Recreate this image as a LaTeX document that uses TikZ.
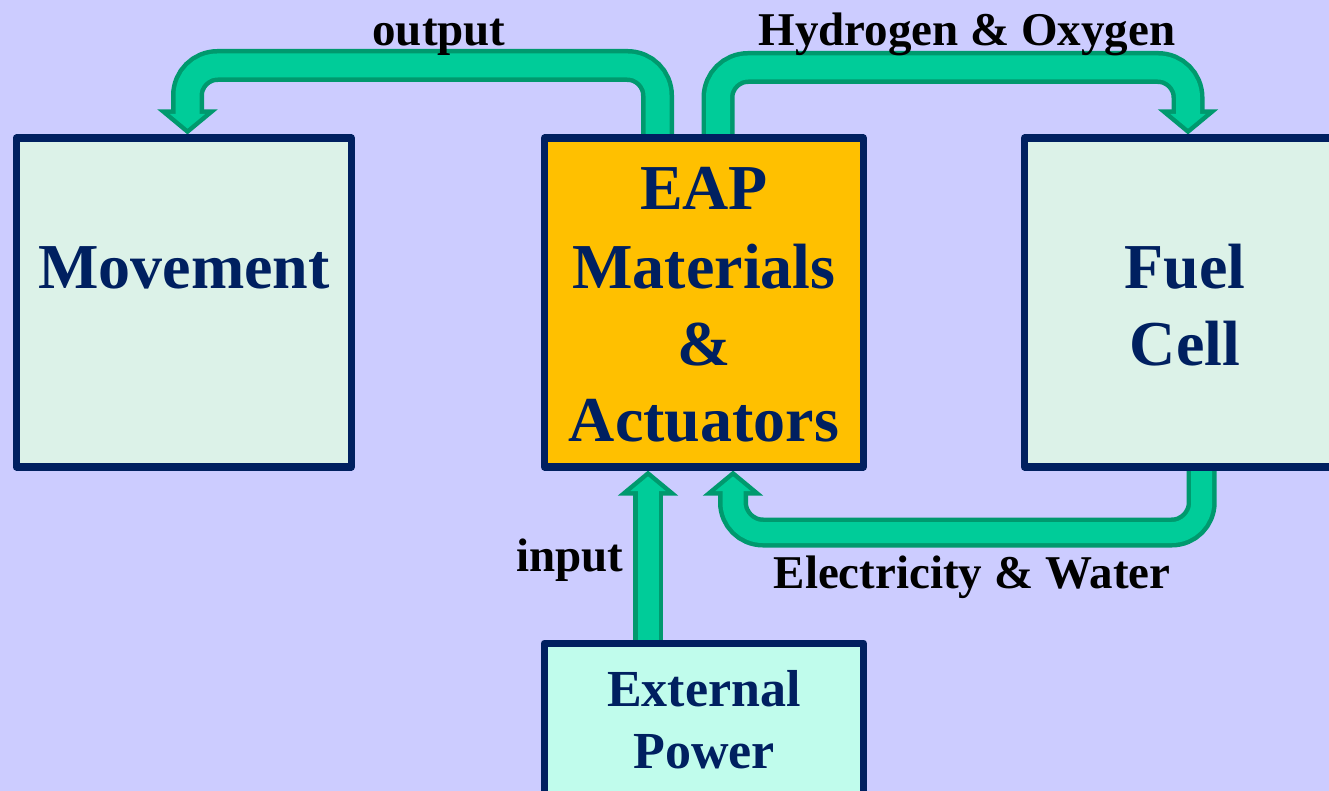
\documentclass[tikz,border=0pt]{standalone}
\usepackage{fontspec}
\setmainfont{Liberation Serif}
\usetikzlibrary{calc}
\definecolor{bg}{HTML}{CCCCFF}
\definecolor{navy}{HTML}{002060}
\definecolor{pale}{HTML}{DCF2E8}
\definecolor{gold}{HTML}{FFC000}
\definecolor{aqua}{HTML}{C0FCEC}
\definecolor{agreen}{HTML}{00CC99}
\definecolor{dgreen}{HTML}{00996E}
\begin{document}
\begin{tikzpicture}[x=1pt,y=-1pt,
  box/.style={draw=navy, line width=7.5pt, line join=round, inner sep=0pt},
  big/.style={inner sep=0pt, anchor=base, text=navy, font=\bfseries\fontsize{64}{77}\selectfont},
  mid/.style={inner sep=0pt, anchor=base, text=navy, font=\bfseries\fontsize{52}{62}\selectfont},
  lab/.style={inner sep=0pt, anchor=base, text=black, font=\bfseries\fontsize{47}{56}\selectfont},
  shaftout/.style={draw=dgreen, line width=33pt, rounded corners=30pt},
  shaftin/.style={draw=agreen, line width=24pt, rounded corners=30pt},
  thinout/.style={draw=dgreen, line width=30pt, rounded corners=30pt},
  thinin/.style={draw=agreen, line width=21pt, rounded corners=30pt},
  headd/.pic={
    \filldraw[fill=dgreen, draw=dgreen, line width=9pt, line join=miter] (0,-5.9) -- (-17.6,-20.5) -- (17.6,-20.5) -- cycle;
    \fill[agreen] (0,-5.9) -- (-17.6,-20.5) -- (17.6,-20.5) -- cycle;
  },
  headu/.pic={
    \filldraw[fill=dgreen, draw=dgreen, line width=9pt, line join=miter] (0,5.9) -- (-17.6,20.5) -- (17.6,20.5) -- cycle;
    \fill[agreen] (0,5.9) -- (-17.6,20.5) -- (17.6,20.5) -- cycle;
  }]
\clip (0,0) rectangle (1329,791);
\fill[bg] (0,0) rectangle (1329,791);

% box nodes (positions only; drawn later on top)
\path
  (183.75,302.5) node[box, draw=none, minimum width=335pt, minimum height=328.5pt] (mov) {}
  (703.85,302.5) node[box, draw=none, minimum width=318.8pt, minimum height=328.5pt] (eap) {}
  (1185,302.5) node[box, draw=none, minimum width=321pt, minimum height=328.5pt] (fuel) {}
  (703.85,807.5) node[box, draw=none, minimum width=318.8pt, minimum height=328.5pt] (ext) {};

% output arrow
\draw[shaftout] (657.5,0 |- eap.north) |- (187.5,65.5) -- ($(187.5,0 |- mov.north)+(0,-18.5)$);
\path (187.5,0 |- mov.north) pic {headd};
\draw[shaftin] (657.5,0 |- eap.north) |- (187.5,65.5) -- ($(187.5,0 |- mov.north)+(0,-18.5)$);

% hydrogen arrow
\draw[shaftout] (718,0 |- eap.north) |- (1188,67.5) -- ($(1188,0 |- fuel.north)+(0,-18.5)$);
\path (1188,0 |- fuel.north) pic {headd};
\draw[shaftin] (718,0 |- eap.north) |- (1188,67.5) -- ($(1188,0 |- fuel.north)+(0,-18.5)$);

% input arrow
\draw[thinout] (648,0 |- ext.north) -- ($(648,0 |- eap.south)+(0,18.5)$);
\path (648,0 |- eap.south) pic {headu};
\draw[thinin] (648,0 |- ext.north) -- ($(648,0 |- eap.south)+(0,18.5)$);

% electricity arrow
\draw[thinout] (1201.7,0 |- fuel.south) |- (733,532.5) -- ($(733,0 |- eap.south)+(0,18.5)$);
\path (733,0 |- eap.south) pic {headu};
\draw[thinin] (1201.7,0 |- fuel.south) |- (733,532.5) -- ($(733,0 |- eap.south)+(0,18.5)$);

% boxes on top
\node[box, fill=pale, minimum width=335pt, minimum height=328.5pt] (movbox) at (mov) {};
\node[box, fill=gold, minimum width=318.8pt, minimum height=328.5pt] (eapbox) at (eap) {};
\node[box, fill=pale, minimum width=321pt, minimum height=328.5pt] (fuelbox) at (fuel) {};
\node[box, fill=aqua, minimum width=318.8pt, minimum height=328.5pt] (extbox) at (ext) {};

% box texts
\node[big] (t1) at (184,288) {Movement};
\node[big] (t2) at (704,210) {EAP};
\node[big] (t3) at (704,288) {Materials};
\node[big] (t4) at (704,365) {\&};
\node[big] (t5) at (704,441) {Actuators};
\node[big] (t6) at (1185,288) {Fuel};
\node[big] (t7) at (1185,365) {Cell};
\node[mid] (t8) at (704,706) {External};
\node[mid] (t9) at (704,768) {Power};

% labels
\node[lab] (l1) at (439,46) {output};
\node[lab] (l2) at (967,46) {Hydrogen \& Oxygen};
\node[lab] (l3) at (570,571) {input};
\node[lab] (l4) at (972,588) {Electricity \& Water};
\end{tikzpicture}
\end{document}
